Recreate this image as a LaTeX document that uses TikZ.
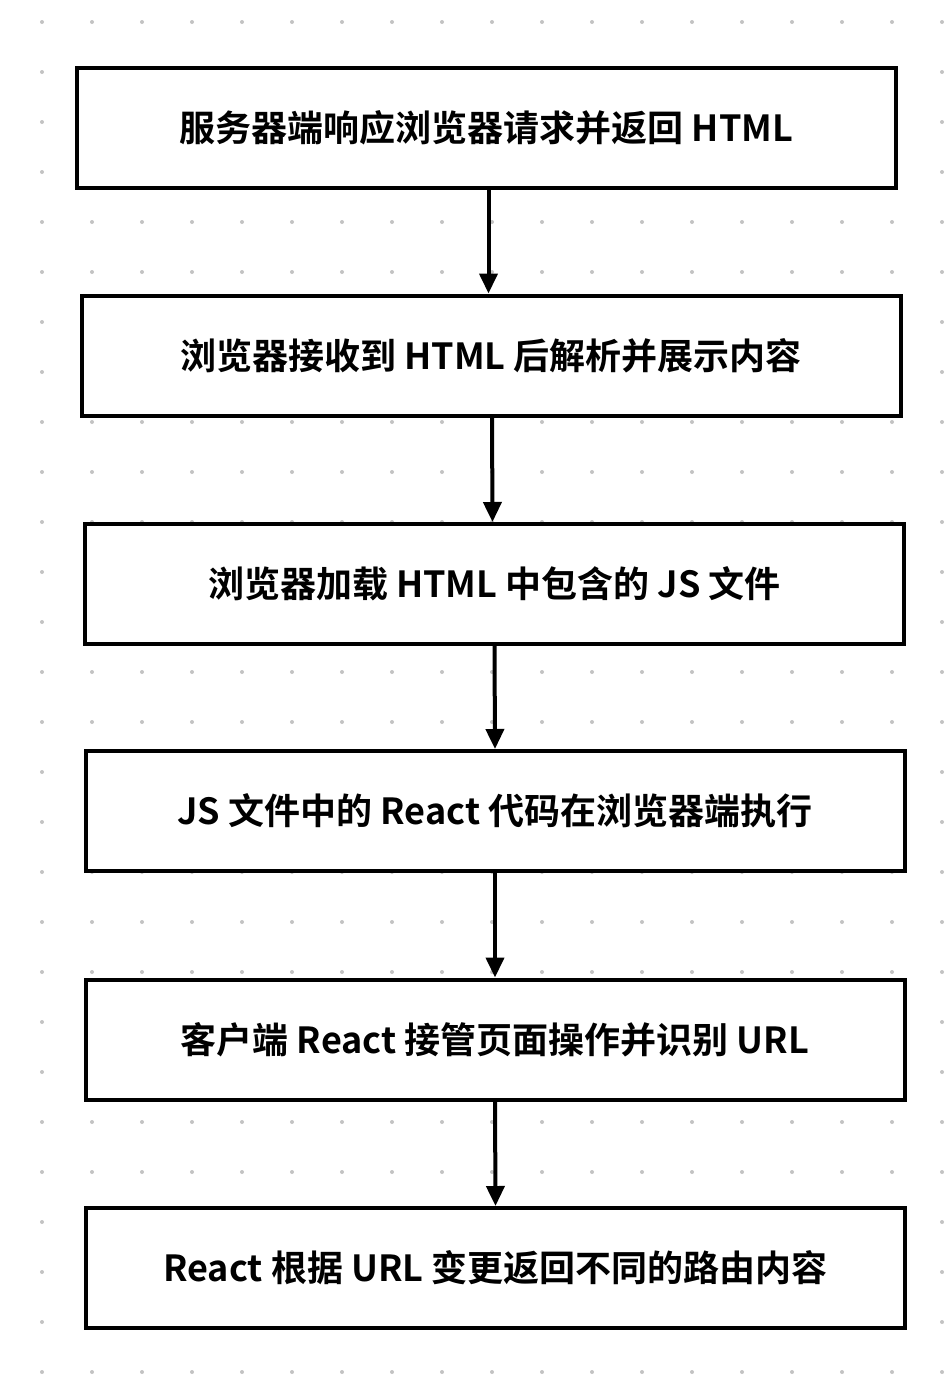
\documentclass[tikz,border=0pt]{standalone}
\usepackage{fontspec}
\setmainfont{Noto Sans CJK SC}[BoldFont={Noto Sans CJK SC Bold}]
\usetikzlibrary{arrows.meta}
\definecolor{dotgray}{RGB}{195,195,195}
\tikzset{
  stepbox/.style={draw=black, line width=4pt, fill=white, rectangle,
    minimum width=819pt, minimum height=120pt, inner sep=0pt,
    font=\fontsize{36}{42}\selectfont\bfseries},
  flowarrow/.style={draw=black, line width=4pt, -{Triangle[width=18pt,length=20pt]}},
  griddot/.style={fill=dotgray, draw=none}
}
\begin{document}
\begin{tikzpicture}[x=1pt,y=-1pt]
\useasboundingbox[fill=white] (0,0) rectangle (946,1384);
\foreach \gx in {42,92,...,942} {
  \foreach \gy in {22,72,...,1372} {
    \fill[griddot] (\gx,\gy) circle (2pt);
  }
}
\node[stepbox] (b1) at (486.5,128) {服务器端响应浏览器请求并返回 HTML};
\node[stepbox] (b2) at (491,355.5) {浏览器接收到 HTML 后解析并展示内容};
\node[stepbox] (b3) at (494.5,584) {浏览器加载 HTML 中包含的 JS 文件};
\node[stepbox] (b4) at (495,811) {JS 文件中的 React 代码在浏览器端执行};
\node[stepbox] (b5) at (495,1039.5) {客户端 React 接管页面操作并识别 URL};
\node[stepbox] (b6) at (495.5,1268) {React 根据 URL 变更返回不同的路由内容};
\draw[flowarrow] ([xshift=2pt]b1.south) -- ([xshift=-2.5pt]b2.north);
\draw[flowarrow] ([xshift=1pt]b2.south) -- ([xshift=-2pt]b3.north);
\draw[flowarrow] (b3.south) -- (b4.north);
\draw[flowarrow] (b4.south) -- (b5.north);
\draw[flowarrow] (b5.south) -- (b6.north);
\end{tikzpicture}
\end{document}
